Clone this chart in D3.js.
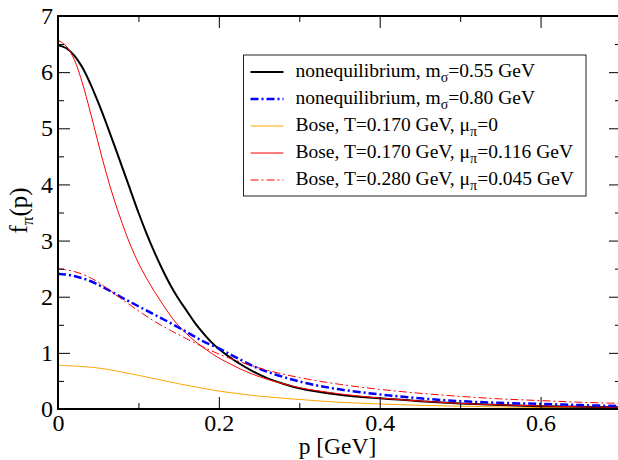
<html lang="en">

	<head>
		<meta charset="UTF-8">
		<title>f_pi(p)</title>
		<style>
			body {
				margin: 0;
				background-color: #ffffff;
			}

			svg text {
				font-family: "Liberation Serif", "DejaVu Serif", serif;
				fill: #000;
			}

			.axis path {
				display: none;
			}

			.axis line {
				stroke: #000;
				stroke-width: 1;
			}
		</style>
		<script src="https://d3js.org/d3.v7.min.js"></script>
	</head>

	<body>
		<div id="chart"></div>

		<script>
			// momentum grid [GeV] and curves
			const pBlack = [0, 0.01, 0.02, 0.03, 0.04, 0.05, 0.06, 0.07, 0.08, 0.09, 0.10, 0.11, 0.12, 0.13, 0.14, 0.15, 0.16, 0.17, 0.18, 0.19, 0.20, 0.22, 0.24, 0.26, 0.28, 0.30, 0.35, 0.40, 0.45, 0.50, 0.55, 0.60, 0.65, 0.70];
			const fBlack = [6.48, 6.43, 6.30, 6.09, 5.80, 5.46, 5.09, 4.70, 4.30, 3.90, 3.50, 3.13, 2.79, 2.48, 2.20, 1.96, 1.75, 1.54, 1.36, 1.20, 1.07, 0.86, 0.69, 0.55, 0.45, 0.37, 0.255, 0.19, 0.14, 0.10, 0.07, 0.05, 0.04, 0.03];

			const pRed = [0, 0.01, 0.02, 0.03, 0.04, 0.05, 0.06, 0.07, 0.08, 0.09, 0.10, 0.11, 0.12, 0.13, 0.14, 0.15, 0.16, 0.17, 0.18, 0.19, 0.20, 0.22, 0.24, 0.26, 0.28, 0.30, 0.35, 0.40, 0.45, 0.50, 0.55, 0.60, 0.65, 0.70];
			const fRed = [6.57, 6.47, 6.23, 5.82, 5.30, 4.74, 4.20, 3.72, 3.30, 2.92, 2.60, 2.33, 2.09, 1.87, 1.66, 1.48, 1.34, 1.21, 1.10, 1.00, 0.91, 0.76, 0.63, 0.53, 0.45, 0.38, 0.27, 0.195, 0.142, 0.10, 0.074, 0.054, 0.04, 0.03];

			const pBlue = [0, 0.02, 0.04, 0.06, 0.08, 0.10, 0.12, 0.14, 0.16, 0.18, 0.20, 0.22, 0.25, 0.30, 0.35, 0.40, 0.45, 0.50, 0.55, 0.60, 0.65, 0.70];
			const fBlue = [2.41, 2.37, 2.28, 2.14, 1.98, 1.83, 1.68, 1.53, 1.37, 1.21, 1.08, 0.93, 0.72, 0.49, 0.35, 0.26, 0.19, 0.14, 0.11, 0.09, 0.07, 0.05];

			const pOrange = [0, 0.05, 0.10, 0.15, 0.20, 0.25, 0.30, 0.35, 0.40, 0.45, 0.50, 0.55, 0.60, 0.65, 0.70];
			const fOrange = [0.78, 0.73, 0.60, 0.45, 0.32, 0.23, 0.17, 0.12, 0.09, 0.065, 0.05, 0.037, 0.028, 0.02, 0.015];

			const pRedDash = [0, 0.02, 0.04, 0.06, 0.08, 0.10, 0.12, 0.14, 0.16, 0.18, 0.20, 0.25, 0.30, 0.35, 0.40, 0.45, 0.50, 0.55, 0.60, 0.65, 0.70];
			const fRedDash = [2.50, 2.45, 2.34, 2.16, 1.95, 1.75, 1.56, 1.40, 1.25, 1.11, 0.98, 0.73, 0.56, 0.44, 0.35, 0.28, 0.225, 0.18, 0.15, 0.12, 0.10];

			const xTicks = [0, 0.2, 0.4, 0.6];
			const xMinor = [0.1, 0.3, 0.5];
			const yTicks = [0, 1, 2, 3, 4, 5, 6, 7];
			const yMinor = [0.5, 1.5, 2.5, 3.5, 4.5, 5.5, 6.5];

			const series = [
				{ p: pBlack, f: fBlack, color: "#000000", width: 2, dash: null, label: ["nonequilibrium, m", "σ", "=0.55 GeV"] },
				{ p: pBlue, f: fBlue, color: "#0000ff", width: 2.5, dash: "8,3,2,3", label: ["nonequilibrium, m", "σ", "=0.80 GeV"] },
				{ p: pOrange, f: fOrange, color: "#ffa500", width: 1, dash: null, label: ["Bose, T=0.170 GeV, μ", "π", "=0"] },
				{ p: pRed, f: fRed, color: "#ff0000", width: 1, dash: null, label: ["Bose, T=0.170 GeV, μ", "π", "=0.116 GeV"] },
				{ p: pRedDash, f: fRedDash, color: "#ff0000", width: 1, dash: "8,3,2,3", label: ["Bose, T=0.280 GeV, μ", "π", "=0.045 GeV"] }
			];

			var W = 618, H = 460;
			var margin = { top: 16, right: -3, bottom: 51, left: 58 };
			var width = W - margin.left - margin.right,
				height = H - margin.top - margin.bottom;

			var x = d3.scaleLinear().domain([0, 0.7]).range([0, width]);
			var y = d3.scaleLinear().domain([0, 7]).range([height, 0]);

			var svg = d3.select("#chart").append("svg")
				.attr("width", W)
				.attr("height", H)
				.append("g")
				.attr("transform", "translate(" + margin.left + "," + margin.top + ")");

			svg.append("clipPath").attr("id", "clip")
				.append("rect").attr("width", width).attr("height", height);

			// curves
			var line = d3.line()
				.x(d => x(d[0]))
				.y(d => y(d[1]))
				.curve(d3.curveCatmullRom.alpha(0.5));

			var drawOrder = [2, 0, 3, 1, 4];
			drawOrder.forEach(function (i) {
				var s = series[i];
				svg.append("path")
					.datum(s.p.map((p, j) => [p, s.f[j]]))
					.attr("clip-path", "url(#clip)")
					.attr("fill", "none")
					.attr("stroke", s.color)
					.attr("stroke-width", s.width)
					.attr("stroke-dasharray", s.dash)
					.attr("d", line);
			});

			// axes, ticks pointing inward on all sides
			var fmt = d => d === 0 ? "0" : d3.format(".1f")(d);

			svg.append("g").attr("class", "axis")
				.attr("transform", "translate(0," + height + ")")
				.call(d3.axisBottom(x).tickValues(xTicks).tickSize(-12).tickPadding(5).tickFormat(fmt))
				.selectAll("text").style("font-size", "24px");
			svg.append("g").attr("class", "axis")
				.attr("transform", "translate(0," + height + ")")
				.call(d3.axisBottom(x).tickValues(xMinor).tickSize(-6).tickFormat(""));
			svg.append("g").attr("class", "axis")
				.call(d3.axisTop(x).tickValues(xTicks).tickSize(-12).tickFormat(""));
			svg.append("g").attr("class", "axis")
				.call(d3.axisTop(x).tickValues(xMinor).tickSize(-6).tickFormat(""));

			svg.append("g").attr("class", "axis")
				.call(d3.axisLeft(y).tickValues(yTicks).tickSize(-12).tickPadding(5).tickFormat(d3.format("d")))
				.selectAll("text").style("font-size", "24px");
			svg.append("g").attr("class", "axis")
				.call(d3.axisLeft(y).tickValues(yMinor).tickSize(-6).tickFormat(""));
			svg.append("g").attr("class", "axis")
				.attr("transform", "translate(" + width + ",0)")
				.call(d3.axisRight(y).tickValues(yTicks).tickSize(-12).tickFormat(""));
			svg.append("g").attr("class", "axis")
				.attr("transform", "translate(" + width + ",0)")
				.call(d3.axisRight(y).tickValues(yMinor).tickSize(-6).tickFormat(""));

			// frame
			svg.append("rect")
				.attr("width", width)
				.attr("height", height)
				.attr("fill", "none")
				.attr("stroke", "#000")
				.attr("stroke-width", 2);

			// axis titles
			svg.append("text")
				.attr("x", width / 2 - 2)
				.attr("y", height + 45)
				.attr("text-anchor", "middle")
				.style("font-size", "23.5px")
				.text("p [GeV]");

			var yl = svg.append("text")
				.attr("transform", "translate(-31," + (height / 2 - 2) + ") rotate(-90)")
				.attr("text-anchor", "middle")
				.style("font-size", "25px");
			yl.append("tspan").text("f");
			yl.append("tspan").attr("dy", 6).style("font-size", "17px").text("π");
			yl.append("tspan").attr("dy", -6).text("(p)");

			// legend
			var lg = svg.append("g").attr("transform", "translate(" + (243.5 - margin.left) + "," + (55 - margin.top) + ")");
			lg.append("rect")
				.attr("width", 342.5)
				.attr("height", 141)
				.attr("fill", "#fff")
				.attr("stroke", "#222")
				.attr("stroke-width", 1);

			series.forEach(function (s, i) {
				var yy = 17 + i * 27;
				lg.append("line")
					.attr("x1", 7).attr("x2", 40)
					.attr("y1", yy).attr("y2", yy)
					.attr("stroke", s.color)
					.attr("stroke-width", s.width)
					.attr("stroke-dasharray", s.dash);
				var t = lg.append("text")
					.attr("x", 52)
					.attr("y", yy + 5)
					.style("font-size", "19.5px");
				t.append("tspan").text(s.label[0]);
				t.append("tspan").attr("dy", 5).style("font-size", "14px").text(s.label[1]);
				t.append("tspan").attr("dy", -5).text(s.label[2]);
			});
		</script>
	</body>

</html>
